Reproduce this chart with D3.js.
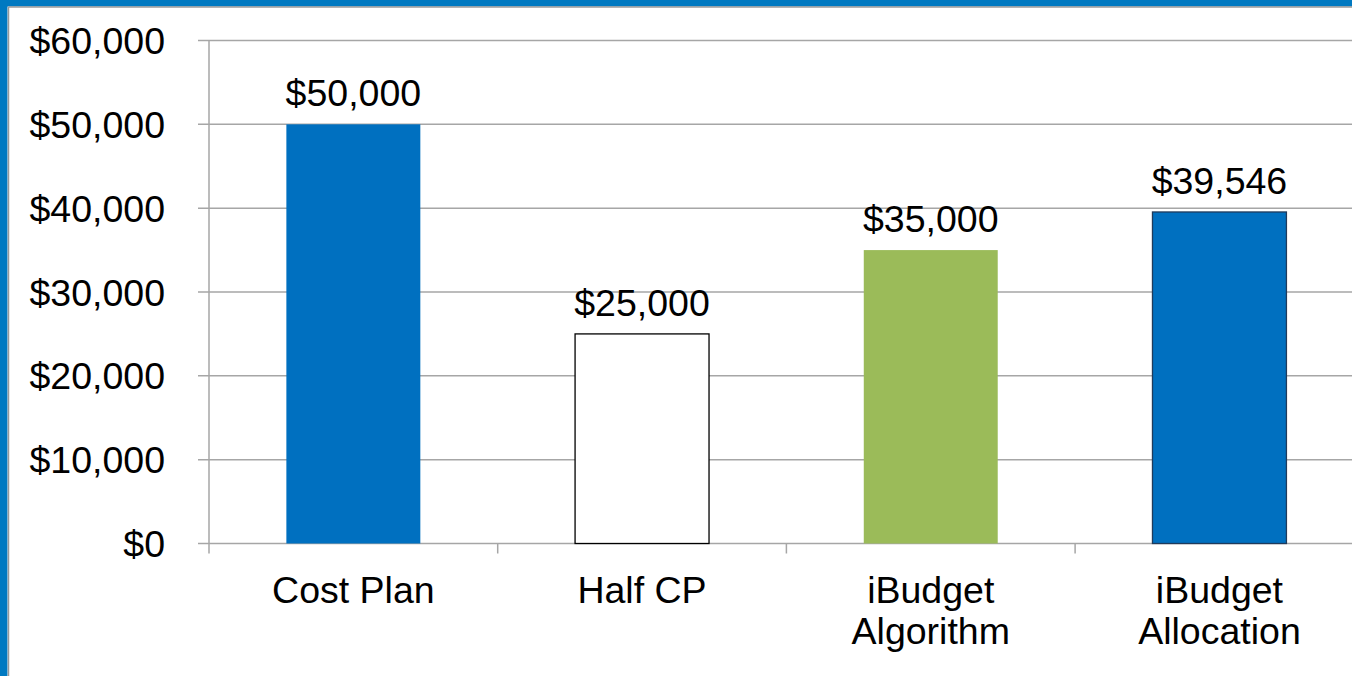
<!DOCTYPE html>
<html><head><meta charset="utf-8">
<script src="https://cdn.jsdelivr.net/npm/d3@7"></script>
<style>html,body{margin:0;padding:0;background:#fff;overflow:hidden}</style>
</head><body>
<script>
const categories = [["Cost Plan"], ["Half CP"], ["iBudget", "Algorithm"], ["iBudget", "Allocation"]];
const values = [50000, 25000, 35000, 39546];
const valueLabels = ["$50,000", "$25,000", "$35,000", "$39,546"];
const fills = ["#0070C0", "#FFFFFF", "#9BBB59", "#0070C0"];
const strokes = ["none", "#000000", "none", "#1F3B5C"];
const yTicks = [0, 10000, 20000, 30000, 40000, 50000, 60000];

const W = 1352, H = 676;
const svg = d3.select("body").append("svg").attr("width", W).attr("height", H);
svg.append("rect").attr("width", W).attr("height", H).attr("fill", "#fff");
// frame
svg.append("rect").attr("x", 0).attr("y", 0).attr("width", W).attr("height", 6.5).attr("fill", "#0079C1");
svg.append("rect").attr("x", 0).attr("y", 0).attr("width", 7.5).attr("height", H).attr("fill", "#0079C1");
svg.append("line").attr("x1", 8.5).attr("x2", W).attr("y1", 7).attr("y2", 7).attr("stroke", "#9a9a9a").attr("stroke-width", 1.5);
svg.append("line").attr("x1", 8.5).attr("x2", 8.5).attr("y1", 7).attr("y2", H).attr("stroke", "#9a9a9a").attr("stroke-width", 1.5);

const x0 = 209, bandW = 288.7;
const x = d3.scaleBand().domain(d3.range(categories.length)).range([x0, x0 + bandW * categories.length]).paddingInner(0.536).paddingOuter(0.268);
const y = d3.scaleLinear().domain([0, 60000]).range([543.5, 40.5]);
const font = "'Liberation Sans', Arial, sans-serif";
const fs = 37.5;

// gridlines
svg.append("g").selectAll("line").data(yTicks).join("line")
  .attr("x1", x0 - 11).attr("x2", W).attr("y1", d => y(d)).attr("y2", d => y(d))
  .attr("stroke", "#a6a6a6").attr("stroke-width", 1.5);
// y axis line
svg.append("line").attr("x1", x0).attr("x2", x0).attr("y1", y(60000)).attr("y2", y(0) + 10)
  .attr("stroke", "#a6a6a6").attr("stroke-width", 1.5);
// x ticks
svg.append("g").selectAll("line").data(d3.range(1, categories.length + 1)).join("line")
  .attr("x1", d => x0 + bandW * d).attr("x2", d => x0 + bandW * d).attr("y1", y(0)).attr("y2", y(0) + 10)
  .attr("stroke", "#a6a6a6").attr("stroke-width", 1.5);
// y labels
svg.append("g").selectAll("text").data(yTicks).join("text")
  .attr("x", 165).attr("y", d => y(d) + 13.5).attr("text-anchor", "end")
  .attr("font-family", font).attr("font-size", fs).attr("fill", "#000")
  .text(d => "$" + d3.format(",")(d));
// bars
svg.append("g").selectAll("rect").data(values).join("rect")
  .attr("x", (d, i) => x(i)).attr("width", x.bandwidth())
  .attr("y", d => y(d)).attr("height", d => y(0) - y(d))
  .attr("fill", (d, i) => fills[i]).attr("stroke", (d, i) => strokes[i]).attr("stroke-width", 1.3);
// value labels
svg.append("g").selectAll("text").data(values).join("text")
  .attr("x", (d, i) => x(i) + x.bandwidth() / 2).attr("y", d => y(d) - 18)
  .attr("text-anchor", "middle").attr("font-family", font).attr("font-size", fs).attr("fill", "#000")
  .text((d, i) => valueLabels[i]);
// category labels
const cg = svg.append("g").selectAll("text").data(categories).join("text")
  .attr("x", (d, i) => x(i) + x.bandwidth() / 2).attr("y", 603)
  .attr("text-anchor", "middle").attr("font-family", font).attr("font-size", fs).attr("fill", "#000");
cg.selectAll("tspan").data(d => d).join("tspan")
  .attr("x", function() { return this.parentNode.getAttribute("x"); })
  .attr("dy", (d, j) => j === 0 ? 0 : 41).text(d => d);
</script>
</body></html>
